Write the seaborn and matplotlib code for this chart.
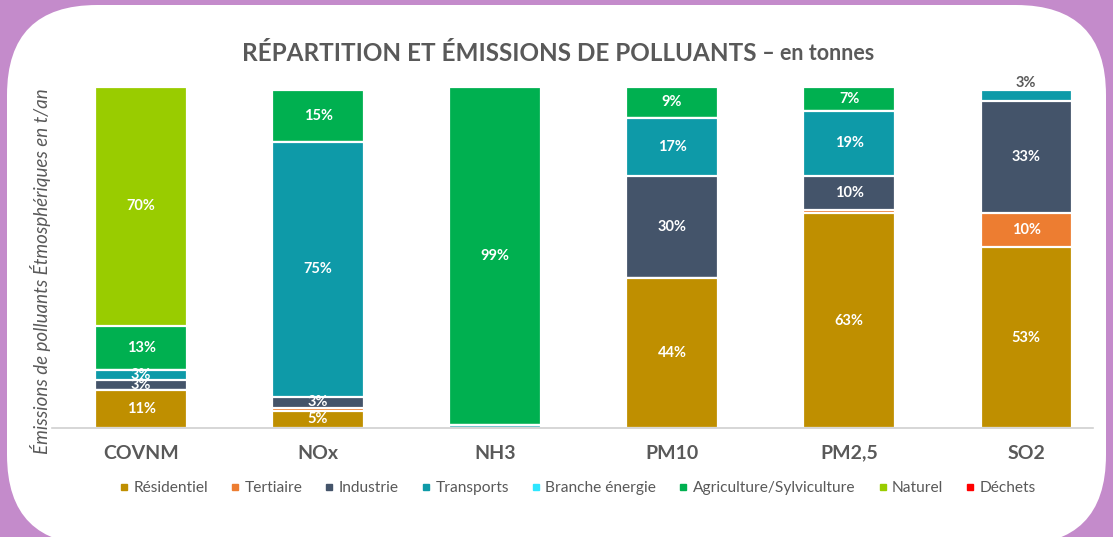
import seaborn as sns
import matplotlib.pyplot as plt
import numpy as np
from matplotlib.patches import FancyBboxPatch
from matplotlib.lines import Line2D
from matplotlib.transforms import IdentityTransform

sns.set_theme(style="white")
plt.rcParams['font.family'] = ['Lato', 'DejaVu Sans']

polluants = ['COVNM', 'NOx', 'NH3', 'PM10', 'PM2,5', 'SO2']
secteurs = ['Résidentiel', 'Tertiaire', 'Industrie', 'Transports',
            'Branche énergie', 'Agriculture/Sylviculture', 'Naturel', 'Déchets']
couleurs = ['#BF8F00', '#ED7D31', '#44546A', '#0E9AA8',
            '#2EE6FF', '#00B050', '#99CC00', '#FF0000']

# parts en % (de bas en haut)
residentiel = [11, 5, 0, 44, 63, 53]
tertiaire = [0, 1, 0, 0, 1, 10]
industrie = [3, 3, 0, 30, 10, 33]
transports = [3, 75, 1, 17, 19, 3]
branche = [0, 0, 0, 0, 0, 0]
agriculture = [13, 15, 99, 9, 7, 0]
naturel = [70, 0, 0, 0, 0, 0]
dechets = [0, 0, 0, 0, 0, 0]

layers = np.array([residentiel, tertiaire, industrie, transports,
                   branche, agriculture, naturel, dechets], dtype=float)
cum = layers.cumsum(axis=0)

W, H = 1113, 537
fig = plt.figure(figsize=(W / 100, H / 100), dpi=100)
fig.patch.set_facecolor('#C48BCB')
panel = FancyBboxPatch((7, -8), 1099, 540,
                       boxstyle="round,pad=0,rounding_size=90",
                       transform=IdentityTransform(), facecolor='white',
                       edgecolor='none', zorder=-5)
fig.patches.append(panel)

ax = fig.add_axes([52 / W, (H - 428) / H, (1093 - 52) / W, 341 / H])
ax.set_facecolor('none')

# stacked bars: draw cumulative totals from the top layer down
for i in range(len(secteurs) - 1, -1, -1):
    sns.barplot(x=polluants, y=cum[i], color=couleurs[i], width=0.515,
                edgecolor='white', linewidth=1.6, saturation=1, ax=ax)

grey = '#595959'
for j in range(len(polluants)):
    for i in range(len(secteurs)):
        v = layers[i, j]
        if v < 3:
            continue
        top = cum[i, j]
        is_top = top >= cum[:, j].max() and v < 5
        if is_top:
            ax.text(j, top + 0.2, f'{int(v)}%', ha='center', va='bottom',
                    color=grey, fontsize=10.5, fontweight='bold')
        else:
            ax.text(j, top - v / 2, f'{int(v)}%', ha='center', va='center',
                    color='white', fontsize=10.5, fontweight='bold')

ax.set_xlim(-0.503, 5.378)
ax.set_ylim(0, 100)
ax.set_yticks([])
ax.set_xlabel('')
sns.despine(ax=ax, left=True)
ax.spines['bottom'].set_color('#D0D0D0')
ax.spines['bottom'].set_linewidth(1.2)
ax.tick_params(axis='x', length=0, pad=12)
for lab in ax.get_xticklabels():
    lab.set_fontsize(14)
    lab.set_fontweight('bold')
    lab.set_color(grey)

fig.text(757 / W, 1 - 53 / H, 'RÉPARTITION ET ÉMISSIONS DE POLLUANTS',
         ha='right', va='center', fontsize=17.5, fontweight='bold', color=grey)
fig.text(757 / W, 1 - 53 / H, ' – en tonnes', ha='left', va='center',
         fontsize=15.5, fontweight='bold', color=grey)

fig.text(41 / W, 1 - 271 / H, 'Émissions de polluants Étmosphériques en t/an',
         rotation=90, ha='center', va='center', fontsize=13.5,
         style='italic', color=grey)

handles = [Line2D([], [], marker='s', linestyle='', markersize=5,
                  markerfacecolor=c, markeredgecolor=c) for c in couleurs]
fig.legend(handles, secteurs, loc='center', ncol=8,
           bbox_to_anchor=(576 / W, 1 - 488 / H), frameon=False,
           fontsize=11.2, labelcolor=grey, handletextpad=0.1,
           columnspacing=1.25, handlelength=1.0)

fig.savefig('out.png', dpi=100, facecolor=fig.get_facecolor())
